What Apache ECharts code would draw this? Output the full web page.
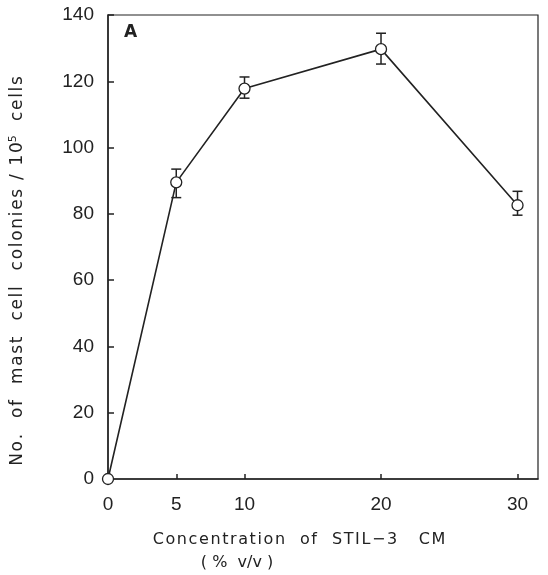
<!DOCTYPE html>
<html>
<head>
<meta charset="utf-8">
<script src="https://cdn.jsdelivr.net/npm/echarts@6/dist/echarts.min.js"></script>
<style>
  html, body { margin: 0; padding: 0; background: #fff; }
  #chart { width: 548px; height: 575px; }
</style>
</head>
<body>
<div id="chart"></div>
<script>
// concentration of STIL-3 CM (% v/v)
const concentrations = [0, 5, 10, 20, 30]
// mast cell colonies per 10^5 cells
const colonies = [0, 89.5, 117.8, 129.7, 82.6]
const errLow = [null, 84.9, 114.9, 125.2, 79.6]
const errHigh = [null, 93.5, 121.3, 134.5, 86.8]
const xTicks = [0, 5, 10, 20, 30]

const font = '"DejaVu Sans", "Liberation Sans", sans-serif'
const tickFont = '"Liberation Sans Narrow", "Liberation Sans", Arial, sans-serif'
const ink = '#222'

// the scanned figure has widely tracked lettering
const spaced = (s) => s.split('').join('\u200A')

const chart = echarts.init(document.getElementById('chart'))

const lineData = concentrations.map((c, i) => [c, colonies[i]])
const errData = []
concentrations.forEach((c, i) => {
  if (errLow[i] != null) errData.push([c, errLow[i], errHigh[i]])
})

const option = {
  animation: false,
  grid: {
    left: 108,
    right: 10,
    top: 15,
    bottom: 96,
    show: true,
    borderColor: ink,
    borderWidth: 1.2,
  },
  xAxis: {
    type: 'value',
    min: 0,
    max: 31.5,
    splitLine: { show: false },
    axisLine: { lineStyle: { color: ink, width: 1.5 } },
    axisTick: {
      inside: true,
      length: 5,
      customValues: xTicks,
      lineStyle: { color: ink, width: 1.5 },
    },
    axisLabel: {
      customValues: xTicks,
      margin: 16,
      color: ink,
      fontSize: 19,
      fontFamily: tickFont,
    },
  },
  yAxis: {
    type: 'value',
    min: 0,
    max: 140,
    interval: 20,
    splitLine: { show: false },
    axisLine: { lineStyle: { color: ink, width: 1.5 } },
    axisTick: { inside: true, length: 6, lineStyle: { color: ink, width: 1.5 } },
    axisLabel: {
      margin: 14,
      color: ink,
      fontSize: 19,
      fontFamily: tickFont,
    },
  },
  graphic: [
    {
      type: 'text',
      left: 124,
      top: 24,
      style: { text: 'A', fontSize: 17, fontWeight: 'bold', fill: ink, fontFamily: font },
    },
    {
      type: 'text',
      x: 18,
      y: 271,
      rotation: Math.PI / 2,
      style: {
        text: spaced('No.  of  mast  cell  colonies / 10') + '{sup|5}' + spaced('  cells'),
        align: 'center',
        verticalAlign: 'middle',
        fontSize: 17,
        fill: ink,
        fontFamily: font,
        rich: {
          sup: { fontSize: 11, verticalAlign: 'top', padding: [0, 0, 10, 0], fill: ink, fontFamily: font },
        },
      },
    },
    {
      type: 'text',
      x: 299,
      y: 540,
      style: {
        text: spaced('Concentration  of  STIL\u22123   CM'),
        align: 'center',
        verticalAlign: 'middle',
        fontSize: 16,
        fill: ink,
        fontFamily: font,
      },
    },
    {
      type: 'text',
      x: 237,
      y: 563,
      style: {
        text: '( %  v/v )',
        align: 'center',
        verticalAlign: 'middle',
        fontSize: 16,
        fill: ink,
        fontFamily: font,
      },
    },
  ],
  series: [
    {
      type: 'custom',
      z: 1,
      data: errData,
      renderItem(params, api) {
        const x = api.value(0)
        const lo = api.coord([x, api.value(1)])
        const hi = api.coord([x, api.value(2)])
        const cap = 5
        const style = { stroke: ink, lineWidth: 1.5 }
        return {
          type: 'group',
          children: [
            { type: 'line', shape: { x1: lo[0], y1: lo[1], x2: hi[0], y2: hi[1] }, style },
            { type: 'line', shape: { x1: lo[0] - cap, y1: lo[1], x2: lo[0] + cap, y2: lo[1] }, style },
            { type: 'line', shape: { x1: hi[0] - cap, y1: hi[1], x2: hi[0] + cap, y2: hi[1] }, style },
          ],
        }
      },
    },
    {
      type: 'line',
      z: 3,
      data: lineData,
      symbol: 'circle',
      symbolSize: 11,
      lineStyle: { color: ink, width: 1.6 },
      itemStyle: { color: '#fff', borderColor: ink, borderWidth: 1.3 },
    },
  ],
}

chart.setOption(option)
</script>
</body>
</html>
